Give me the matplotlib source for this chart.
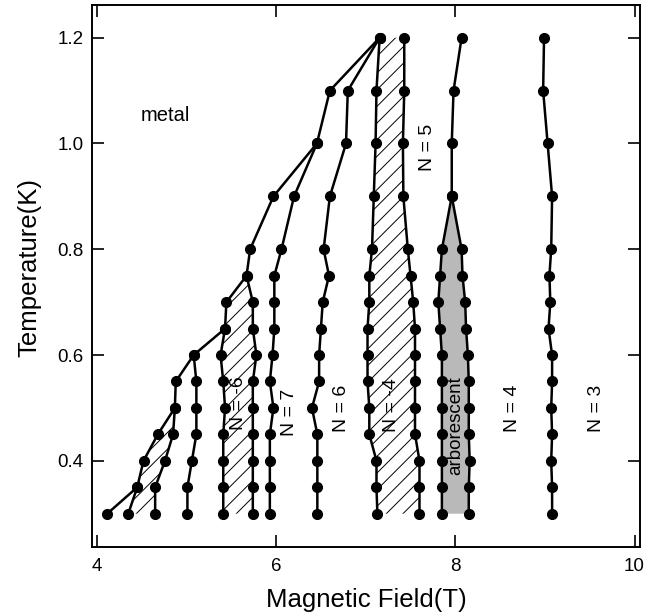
import numpy as np
import matplotlib
matplotlib.use("Agg")
import matplotlib.pyplot as plt

plt.rcParams['font.family'] = ['Liberation Sans', 'DejaVu Sans']
plt.rcParams['hatch.linewidth'] = 0.7

# temperatures (K)
T_all = [0.3, 0.35, 0.4, 0.45, 0.5, 0.55, 0.6, 0.65, 0.7, 0.75, 0.8, 0.9, 1.0, 1.1, 1.2]

# phase boundaries, field (T) at each temperature
metal_B = [4.115, 4.45, 4.52, 4.68, 4.87, 4.88, 5.08, 5.43, 5.445, 5.67, 5.71, 5.97, 6.455, 6.6, 7.155]
wedge_left_T = [0.3, 0.35]
wedge_left_B = [4.35, 4.45]
wedge_right_T = [0.3, 0.35, 0.4, 0.45, 0.5]
wedge_right_B = [4.65, 4.65, 4.76, 4.85, 4.87]
c2_T = [0.3, 0.35, 0.4, 0.45, 0.5, 0.55, 0.6]
c2_B = [5.01, 5.01, 5.06, 5.11, 5.11, 5.11, 5.08]
n6_left_T = [0.3, 0.35, 0.4, 0.45, 0.5, 0.55, 0.6, 0.65]
n6_left_B = [5.41, 5.41, 5.41, 5.41, 5.43, 5.41, 5.38, 5.43]
n6_right_T = [0.3, 0.35, 0.4, 0.45, 0.5, 0.55, 0.6, 0.65, 0.7, 0.75]
n6_right_B = [5.74, 5.74, 5.74, 5.74, 5.74, 5.74, 5.78, 5.74, 5.74, 5.67]
c5_T = [0.3, 0.35, 0.4, 0.45, 0.5, 0.55, 0.6, 0.65, 0.7, 0.75, 0.8, 0.9, 1.0]
c5_B = [5.93, 5.93, 5.93, 5.93, 5.97, 5.93, 5.96, 5.98, 5.98, 5.98, 6.06, 6.2, 6.455]
c6_B = [6.46, 6.46, 6.46, 6.46, 6.40, 6.48, 6.48, 6.50, 6.52, 6.59, 6.53, 6.6, 6.78, 6.8, 7.155]
n4_left_B = [7.13, 7.12, 7.12, 7.04, 7.04, 7.02, 7.02, 7.02, 7.04, 7.04, 7.07, 7.09, 7.11, 7.12, 7.155]
n4_right_B = [7.6, 7.6, 7.6, 7.55, 7.55, 7.55, 7.55, 7.55, 7.53, 7.5, 7.47, 7.42, 7.415, 7.43, 7.43]
arb_T = [0.3, 0.35, 0.4, 0.45, 0.5, 0.55, 0.6, 0.65, 0.7, 0.75, 0.8, 0.9]
arb_left_B = [7.85, 7.85, 7.85, 7.85, 7.85, 7.85, 7.85, 7.83, 7.81, 7.83, 7.85, 7.96]
arb_right_B = [8.15, 8.15, 8.16, 8.15, 8.15, 8.15, 8.14, 8.12, 8.11, 8.08, 8.07, 7.96]
c9_T = [0.9, 1.0, 1.1, 1.2]
c9_B = [7.96, 7.96, 7.98, 8.07]
c10_B = [9.08, 9.08, 9.07, 9.08, 9.07, 9.08, 9.08, 9.04, 9.06, 9.05, 9.07, 9.08, 9.03, 8.98, 8.99]

fig = plt.figure(figsize=(6.57, 6.16), dpi=100)
ax = fig.add_axes([0.140, 0.112, 0.834, 0.880])

# shaded regions
wx = wedge_left_B + metal_B[2:5] + wedge_right_B[::-1]
wy = wedge_left_T + T_all[2:5] + wedge_right_T[::-1]
ax.fill(wx, wy, facecolor='none', edgecolor='black', hatch='//', linewidth=0)

nx = n6_left_B + metal_B[8:10] + n6_right_B[::-1]
ny = n6_left_T + T_all[8:10] + n6_right_T[::-1]
ax.fill(nx, ny, facecolor='none', edgecolor='black', hatch='//', linewidth=0)

ax.fill(n4_left_B + n4_right_B[::-1], T_all + T_all[::-1],
        facecolor='none', edgecolor='black', hatch='//', linewidth=0)

ax.fill(arb_left_B + arb_right_B[::-1], arb_T + arb_T[::-1],
        facecolor='#b9b9b9', edgecolor='none')

style = dict(color='black', lw=1.8, marker='o', ms=7)
ax.plot(metal_B, T_all, **style)
ax.plot(wedge_left_B, wedge_left_T, **style)
ax.plot(wedge_right_B, wedge_right_T, **style)
ax.plot(c2_B, c2_T, **style)
ax.plot(n6_left_B, n6_left_T, **style)
ax.plot(n6_right_B, n6_right_T, **style)
ax.plot(c5_B, c5_T, **style)
ax.plot(c6_B, T_all, **style)
ax.plot(n4_left_B, T_all, **style)
ax.plot(n4_right_B, T_all, **style)
ax.plot(arb_left_B, arb_T, **style)
ax.plot(arb_right_B, arb_T, **style)
ax.plot(c9_B, c9_T, **style)
ax.plot(c10_B, T_all, **style)

# labels
lab = dict(rotation=90, ha='center', va='center', fontsize=14)
ax.text(5.575, 0.51, 'N = -6', **lab)
ax.text(6.15, 0.492, 'N = 7', **lab)
ax.text(6.73, 0.50, 'N = 6', **lab)
ax.text(7.29, 0.505, 'N = -4', **lab)
ax.text(8.0, 0.467, 'arborescent', rotation=90, ha='center', va='center', fontsize=13.5)
ax.text(8.64, 0.50, 'N = 4', **lab)
ax.text(9.57, 0.50, 'N = 3', **lab)
ax.text(7.69, 0.992, 'N = 5', **lab)
ax.text(4.76, 1.052, 'metal', ha='center', va='center', fontsize=14.5)

ax.set_xlim(3.945, 10.06)
ax.set_ylim(0.237, 1.262)
ax.set_xticks([4, 6, 8, 10])
ax.set_yticks([0.4, 0.6, 0.8, 1.0, 1.2])
ax.set_yticklabels(['0.4', '0.6', '0.8', '1.0', '1.2'])
ax.tick_params(direction='in', length=8.5, width=1.2, top=True, right=True,
               labelsize=13.5)
ax.tick_params(axis='x', pad=8)
ax.tick_params(axis='y', pad=6)
for s in ax.spines.values():
    s.set_linewidth(1.4)

ax.set_xlabel('Magnetic Field(T)', fontsize=18.5, labelpad=9)
ax.set_ylabel('Temperature(K)', fontsize=18.5)
ax.yaxis.set_label_coords(-0.092, 0.516)

plt.savefig('out.png', dpi=100)
